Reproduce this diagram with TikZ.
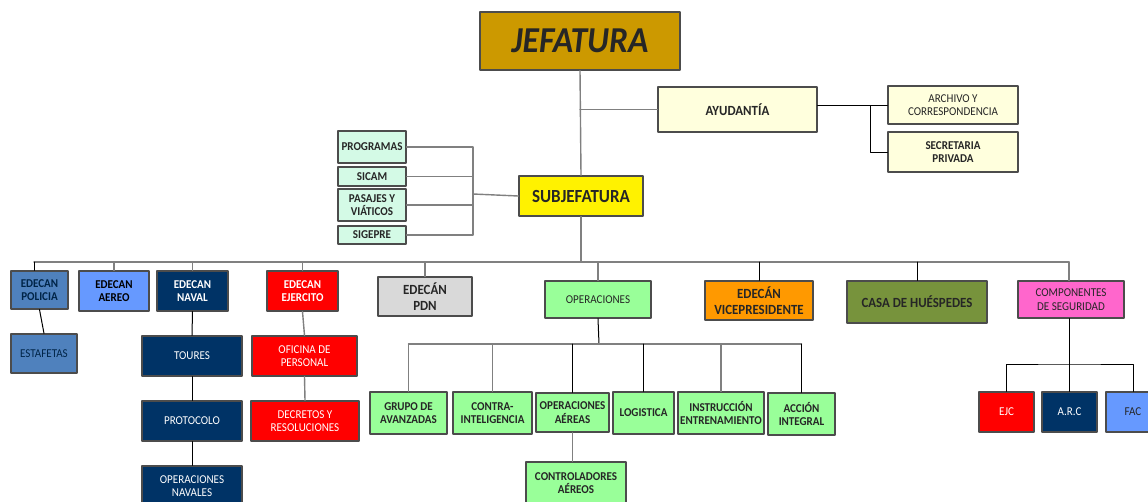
\documentclass[tikz,border=0pt]{standalone}
\usepackage{fontspec}
\setmainfont{Carlito}[FakeStretch=0.92]
\usepackage{xcolor}
\definecolor{gold}{HTML}{CC9900}
\definecolor{cream}{HTML}{FFFFDD}
\definecolor{mint}{HTML}{D4FAE6}
\definecolor{steel}{HTML}{4F81BD}
\definecolor{sky}{HTML}{6699FF}
\definecolor{navy}{HTML}{003366}
\definecolor{lgreen}{HTML}{99FF99}
\definecolor{olive}{HTML}{77933C}
\definecolor{pink}{HTML}{FF66CC}
\definecolor{orng}{HTML}{FF9900}
\definecolor{ink}{HTML}{262626}

\begin{document}
\begin{tikzpicture}[x=1pt,y=-1pt,line cap=round,line join=round,
	box/.style={draw=black!70,line width=1.2pt,align=center,inner sep=1pt,text=ink,font=\fontsize{12}{13.5}\selectfont},
	boldbox/.style={box,font=\fontsize{12}{13.5}\selectfont\bfseries},
	bigbox/.style={box,font=\fontsize{14}{16}\selectfont\bfseries},
	conn/.style={draw=black!50,line width=1.4pt},
	connk/.style={draw=black,line width=1pt}]
		\clip (0,0) rectangle (1148,501);
		% top
		\node [box,fill=gold,minimum width=200pt,minimum height=58pt,font=\fontsize{36.5}{38}\selectfont\bfseries\itshape] (jef) at (580,41) {JEFATURA};
		\node [bigbox,fill=cream,minimum width=159pt,minimum height=45pt] (ayu) at (737.5,109.5) {AYUDANTÍA};
		\node [box,fill=cream,minimum width=130pt,minimum height=38pt] (arch) at (953,105) {ARCHIVO Y\\CORRESPONDENCIA};
		\node [boldbox,fill=cream,minimum width=130pt,minimum height=40pt] (secr) at (953,152) {SECRETARIA\\PRIVADA};
		\node [box,fill=yellow,minimum width=124pt,minimum height=40pt,font=\fontsize{18.5}{20}\selectfont\bfseries] (subj) at (581,196) {SUBJEFATURA};
		% left column
		\begin{scope}[every node/.append style={boldbox,fill=mint,minimum width=68pt}]
			\node [minimum height=32pt] (prog) at (372,147) {PROGRAMAS};
			\node [minimum height=19pt] (sicam) at (372,176.5) {SICAM};
			\node [minimum height=32pt] (pasa) at (372,205) {PASAJES Y\\VIÁTICOS};
			\node [minimum height=18pt] (sige) at (372,235) {SIGEPRE};
		\end{scope}
		\coordinate (lj) at (473,194);
		\coordinate (rj) at (870,106);
		\coordinate (busl) at (34,262);
		\coordinate (busr) at (1069,262);
		\coordinate (obus) at (599,344);
		\coordinate (cbus) at (1069,364);
		% second level
		\node [boldbox,fill=steel,minimum width=57pt,minimum height=38pt,text=navy!70!black] (pol) at (39.5,290) {EDECAN\\POLICIA};
		\node [box,fill=steel,minimum width=66pt,minimum height=39pt,text=navy!70!black] (esta) at (44,353.5) {ESTAFETAS};
		\node [boldbox,fill=sky,minimum width=70pt,minimum height=40pt,text=black] (aereo) at (114,291) {EDECAN\\AEREO};
		\node [boldbox,fill=navy,minimum width=71pt,minimum height=40pt,text=white] (naval) at (192.5,291) {EDECAN\\NAVAL};
		\node [box,fill=navy,minimum width=100pt,minimum height=40pt,text=white] (tour) at (192,356) {TOURES};
		\node [box,fill=navy,minimum width=100pt,minimum height=40pt,text=white] (prot) at (192,421) {PROTOCOLO};
		\node [box,fill=navy,minimum width=100pt,minimum height=40pt,text=white] (opnav) at (192,486) {OPERACIONES\\NAVALES};
		\node [boldbox,fill=red,minimum width=71pt,minimum height=40pt,text=white] (ejer) at (302.5,291) {EDECAN\\EJERCITO};
		\node [box,fill=red,minimum width=105pt,minimum height=40pt,text=white] (ofic) at (304.5,356) {OFICINA DE\\PERSONAL};
		\node [box,fill=red,minimum width=108pt,minimum height=40pt,text=white] (decr) at (305,421) {DECRETOS Y\\RESOLUCIONES};
		\node [bigbox,fill=black!15,minimum width=94pt,minimum height=39pt] (pdn) at (425,296.5) {EDECÁN\\PDN};
		\node [box,fill=lgreen,minimum width=106pt,minimum height=37pt] (oper) at (598,299.5) {OPERACIONES};
		\node [bigbox,fill=orng,minimum width=108pt,minimum height=39pt] (vice) at (759,300.5) {EDECÁN\\VICEPRESIDENTE};
		\node [bigbox,fill=olive,minimum width=140pt,minimum height=42pt] (casa) at (917,302) {CASA DE HUÉSPEDES};
		\node [box,fill=pink,minimum width=106pt,minimum height=37pt] (comp) at (1071,299.5) {COMPONENTES\\DE SEGURIDAD};
		% operaciones
		\begin{scope}[every node/.append style={boldbox,fill=lgreen,minimum height=42pt}]
			\node [minimum width=77pt] (grupo) at (408.5,413) {GRUPO DE\\AVANZADAS};
			\node [minimum width=79pt] (contra) at (492.5,413) {CONTRA-\\INTELIGENCIA};
			\node [minimum width=73pt,minimum height=39pt] (opaer) at (572.5,412.5) {OPERACIONES\\AÉREAS};
			\node [minimum width=100pt] (ctrl) at (576,483) {CONTROLADORES\\AÉREOS};
			\node [minimum width=61pt] (logi) at (643.5,413) {LOGISTICA};
			\node [minimum width=86pt] (instr) at (721,413) {INSTRUCCIÓN\\ENTRENAMIENTO};
			\node [minimum width=67pt] (accion) at (801.5,414) {ACCIÓN\\INTEGRAL};
		\end{scope}
		% componentes
		\node [box,fill=red,minimum width=55pt,minimum height=40pt,text=white] (ejc) at (1006.5,412) {EJC};
		\node [box,fill=navy,minimum width=55pt,minimum height=40pt,text=white] (arc) at (1069.5,412) {A.R.C};
		\node [box,fill=sky,minimum width=54pt,minimum height=40pt] (fac) at (1133,412) {FAC};
		% lines
		\draw [conn] (jef.south) -- (subj.north);
		\draw [conn] (jef.south |- ayu.west) -- (ayu.west);
		\draw [connk] (ayu.east |- arch.west) -- (arch.west);
		\draw [connk] (rj) |- (secr.west);
		\draw [conn] (prog.east) -| (lj) |- (sige.east);
		\draw [conn] (sicam.east) -- (sicam.east -| lj);
		\draw [conn] (pasa.east) -- (pasa.east -| lj);
		\draw [conn] (subj.west) -- (lj);
		\draw [conn] (subj.south) -- (subj.south |- busl);
		\draw [conn] (busl) -- (busr);
		\draw [connk] (busl) -- (busl |- pol.north);
		\draw [conn] (aereo.north |- busl) -- (aereo.north);
		\draw [conn] (naval.north |- busl) -- (naval.north);
		\draw [conn] (ejer.north |- busl) -- (ejer.north);
		\draw [conn] (pdn.north |- busl) -- (pdn.north);
		\draw [conn] (oper.north |- busl) -- (oper.north);
		\draw [connk] (vice.north |- busl) -- (vice.north);
		\draw [connk] (casa.north |- busl) -- (casa.north);
		\draw [conn] (busr) -- (comp.north -| busr);
		\draw [connk] (pol.south) -- (esta.north);
		\draw [connk] (naval.south) -- (tour.north);
		\draw [connk] (tour.south) -- (prot.north);
		\draw [connk] (prot.south) -- (opnav.north);
		\draw [conn] (ejer.south) -- (ofic.north);
		\draw [conn] (ofic.south) -- (decr.north);
		\draw [connk] (oper.south) -- (obus);
		\draw [conn] (grupo.north |- obus) -- (accion.north |- obus);
		\draw [conn] (grupo.north |- obus) -- (grupo.north);
		\draw [conn] (contra.north |- obus) -- (contra.north);
		\draw [connk] (opaer.north |- obus) -- (opaer.north);
		\draw [connk] (logi.north |- obus) -- (logi.north);
		\draw [conn] (instr.north |- obus) -- (instr.north);
		\draw [connk] (accion.north |- obus) -- (accion.north);
		\draw [conn] (opaer.south) -- (ctrl.north -| opaer.south);
		\draw [connk] (comp.south -| cbus) -- (arc.north -| cbus);
		\draw [connk] (ejc.north) |- (cbus) -| (fac.north);
\end{tikzpicture}
\end{document}
